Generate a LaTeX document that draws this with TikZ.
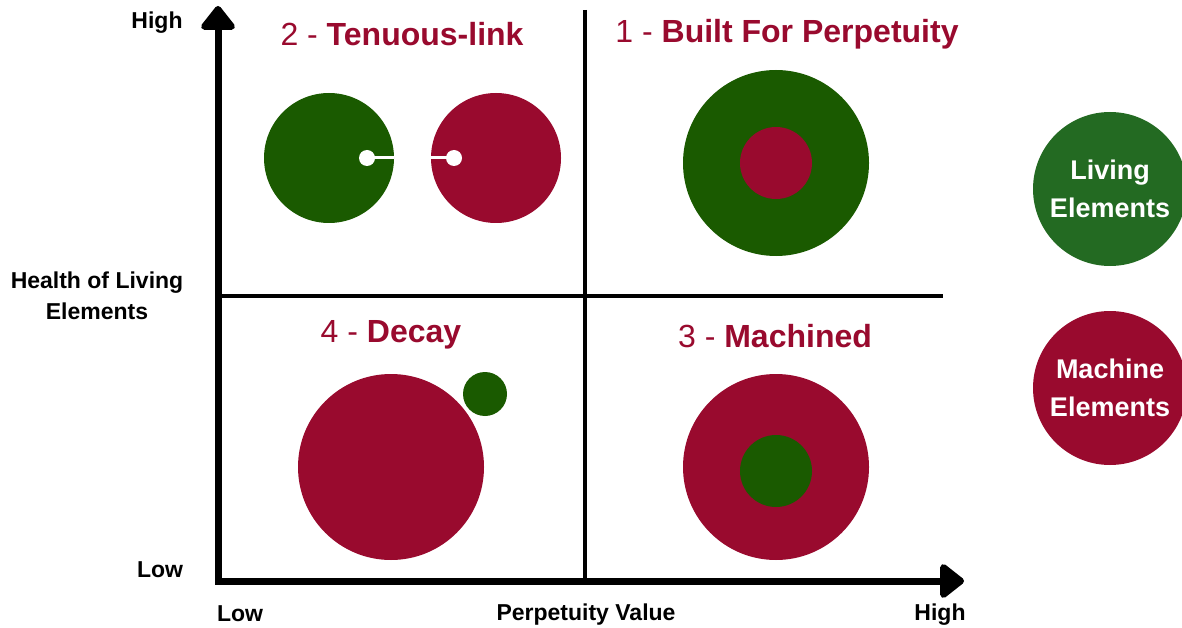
\documentclass[tikz,border=0pt]{standalone}
\usepackage{fontspec}
\setmainfont{Liberation Sans}
\usetikzlibrary{arrows.meta}
\definecolor{qgreen}{RGB}{26,90,0}
\definecolor{lgreen}{RGB}{35,106,34}
\definecolor{qred}{RGB}{153,10,46}
\begin{document}
\begin{tikzpicture}[x=1pt,y=-1pt,
  axis/.style={line width=7pt,miter limit=10,{Triangle[width=39pt,length=26pt,round]}-{Triangle[width=39pt,length=26pt,round]}},
  divider/.style={line width=3.5pt},
  axlabel/.style={font=\fontsize{23}{27}\selectfont\bfseries,align=center,inner sep=0pt},
  title/.style={font=\fontsize{32}{36}\selectfont,text=qred,inner sep=0pt},
  legend/.style={circle,fill=#1,minimum size=154pt,inner sep=0pt,text=white,align=center,font=\fontsize{27}{38}\selectfont\bfseries},
  blob/.style={circle,fill=#1,inner sep=0pt},
  dot/.style={circle,fill=white,minimum size=16pt,inner sep=0pt},
  link/.style={white,line width=3pt}]
\useasboundingbox (0,0) rectangle (1182,628);
% quadrant dividers
\coordinate (vtop) at (585,10);
\coordinate (vbot) at (585,580);
\coordinate (hleft) at (216,296);
\coordinate (hright) at (943,296);
\draw[divider] (vtop) -- (vbot);
\draw[divider] (hleft) -- (hright);
% axes
\coordinate (corner) at (218,581);
\coordinate (ytip) at (218,6);
\coordinate (xtip) at (964,581);
\draw[axis] (ytip) -- (corner) -- (xtip);
% axis labels
\node[axlabel] (yhigh) at (157,23) {High};
\node[axlabel] (ylow) at (160,570) {Low};
\node[axlabel] (ytitle) at (97,296) {Health of Living\\[4pt]Elements};
\node[axlabel] (xlow) at (240,614) {Low};
\node[axlabel] (xtitle) at (586,615) {Perpetuity Value};
\node[axlabel] (xhigh) at (940,615) {High};
% titles
\node[title] (t2) at (402,34) {2 - \textbf{Tenuous-link}};
\node[title] (t1) at (787,34) {1 - \textbf{Built For Perpetuity}};
\node[title] (t4) at (391,335) {4 - \textbf{Decay}};
\node[title] (t3) at (775,336) {3 - \textbf{Machined}};
% quadrant 2
\node[blob=qgreen,minimum size=130pt] (g2) at (329,158) {};
\node[blob=qred,minimum size=130pt] (r2) at (496,158) {};
\node[dot] (gd) at (367,158) {};
\node[dot] (rd) at (454,158) {};
\draw[link] (gd.center) -- (g2.east);
\draw[link] (rd.center) -- (r2.west);
% quadrant 1
\node[blob=qgreen,minimum size=186pt] (g1) at (776,163) {};
\node[blob=qred,minimum size=72pt] (r1) at (776,163) {};
% quadrant 3
\node[blob=qred,minimum size=186pt] (r3) at (776,467) {};
\node[blob=qgreen,minimum size=72pt] (g3) at (776,471) {};
% quadrant 4
\node[blob=qred,minimum size=186pt] (r4) at (391,467) {};
\node[blob=qgreen,minimum size=44pt] (g4) at (485,394) {};
% legend
\node[legend=lgreen] (lliving) at (1110,189) {Living\\Elements};
\node[legend=qred] (lmachine) at (1110,388) {Machine\\Elements};
\end{tikzpicture}
\end{document}
